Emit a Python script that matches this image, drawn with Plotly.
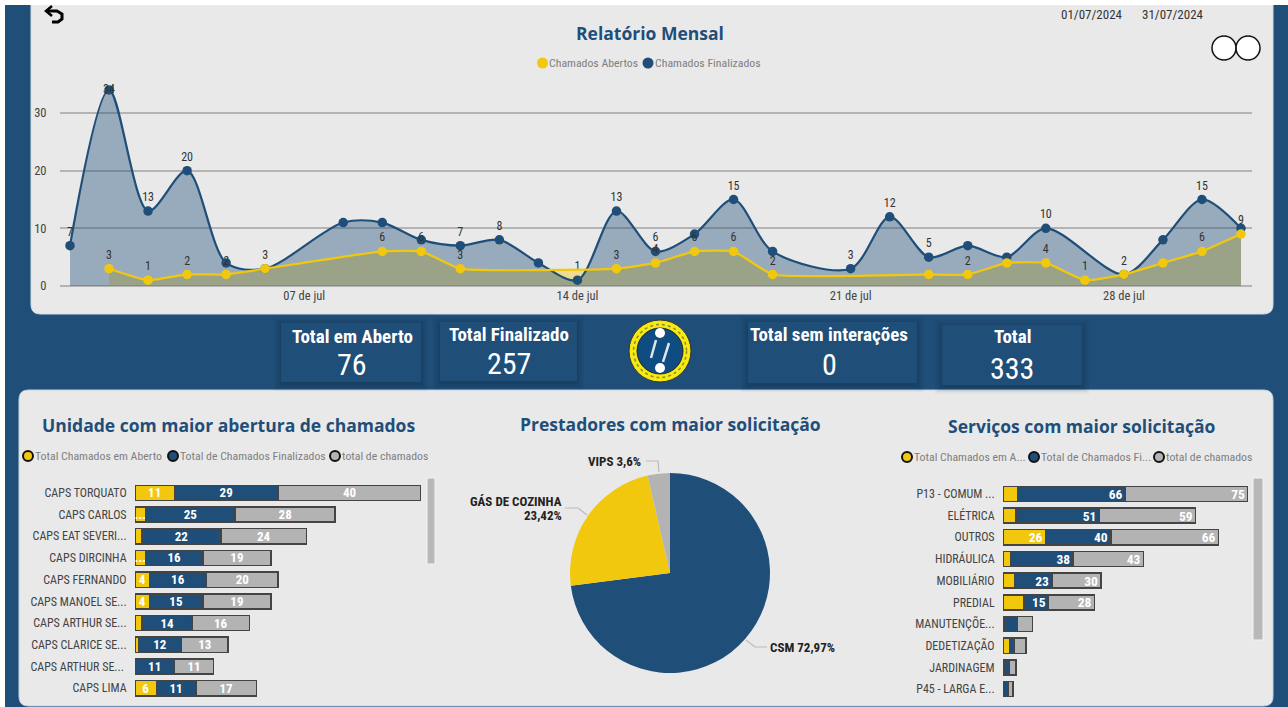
import plotly.graph_objects as go

W, H = 1288, 707
NAVY = "#1F4E79"
YEL = "#F2C80F"
GRY = "#B3B3B3"
PANEL = "#E9E9E9"
NARROW = "Roboto Condensed, Roboto, sans-serif"
HEAD = "Open Sans, Noto Sans, sans-serif"

# ---------- data ----------
open_days = [2, 3, 4, 5, 6, 9, 10, 11, 15, 16, 17, 18, 19, 23, 24, 25, 26, 27, 28, 29, 30, 31]
open_vals = [3, 1, 2, 2, 3, 6, 6, 3, 3, 4, 6, 6, 2, 2, 2, 4, 4, 1, 2, 4, 6, 9]
open_lbls = ["3", "1", "2", "2", "", "6", "6", "3", "3", "4", "6", "6", "2", "", "2", "", "4", "1", "", "", "6", "9"]
done_days = [1, 2, 3, 4, 5, 6, 8, 9, 10, 11, 12, 13, 14, 15, 16, 17, 18, 19, 21, 22, 23, 24, 25, 26, 28, 29, 30, 31]
done_vals = [7, 34, 13, 20, 4, 3, 11, 11, 8, 7, 8, 4, 1, 13, 6, 9, 15, 6, 3, 12, 5, 7, 5, 10, 2, 8, 15, 10]
done_lbls = ["7", "34", "13", "20", "", "3", "", "", "", "7", "8", "", "1", "13", "6", "", "15", "", "3", "12", "5", "", "", "10", "2", "", "15", ""]
date_ticks = ["2024-07-07", "2024-07-14", "2024-07-21", "2024-07-28"]
date_ticktext = ["07 de jul", "14 de jul", "21 de jul", "28 de jul"]

units = ["CAPS TORQUATO", "CAPS CARLOS", "CAPS EAT SEVERI...", "CAPS DIRCINHA", "CAPS FERNANDO",
         "CAPS MANOEL SE...", "CAPS ARTHUR SE...", "CAPS CLARICE SE...", "CAPS ARTHUR SE... ", "CAPS LIMA"]
units_open = [11, 3, 2, 3, 4, 4, 2, 1, 0, 6]
units_done = [29, 25, 22, 16, 16, 15, 14, 12, 11, 11]
units_total = [40, 28, 24, 19, 20, 19, 16, 13, 11, 17]
units_open_lbl = ["11", "...", "", "...", "4", "4", "", "", "", "6"]

services = ["P13 - COMUM ...", "ELÉTRICA", "OUTROS", "HIDRÁULICA", "MOBILIÁRIO", "PREDIAL",
            "MANUTENÇÕE...", "DEDETIZAÇÃO", "JARDINAGEM", "P45 - LARGA E..."]
serv_open = [9, 8, 26, 5, 7, 13, 1, 4, 1, 0]
serv_done = [66, 51, 40, 38, 23, 15, 8, 3, 3, 3]
serv_total = [75, 59, 66, 43, 30, 28, 9, 7, 4, 3]
serv_open_lbl = ["", "", "26", "", "", "", "", "", "", ""]
serv_done_lbl = ["66", "51", "40", "38", "23", "15", "", "", "", ""]
serv_total_lbl = ["75", "59", "66", "43", "30", "28", "", "", "", ""]

prov_names = ["CSM", "GÁS DE COZINHA", "VIPS"]
prov_vals = [72.97, 23.42, 3.6]

kpi_titles = ["Total em Aberto", "Total Finalizado", "Total sem interações", "Total"]
kpi_values = ["76", "257", "0", "333"]


# ---------- helpers ----------
def px(x):
    return x / W


def py(y):
    return 1 - y / H


def dom_x(a, b):
    return [px(a), px(b)]


def dom_y(top, bottom):
    return [py(bottom), py(top)]


shapes, annos = [], []


def rect(x0, y0, x1, y1, fill, line=None, lw=0, layer="below"):
    shapes.append(dict(type="rect", xref="paper", yref="paper", x0=px(x0), x1=px(x1), y0=py(y0), y1=py(y1),
                       fillcolor=fill, line=dict(color=line or fill, width=lw), layer=layer))


def circ(cx, cy, rx, ry, fill, line="rgba(0,0,0,0)", lw=0, layer="above", dash=None):
    ln = dict(color=line, width=lw)
    if dash:
        ln["dash"] = dash
    shapes.append(dict(type="circle", xref="paper", yref="paper", x0=px(cx - rx), x1=px(cx + rx),
                       y0=py(cy + ry), y1=py(cy - ry), fillcolor=fill, line=ln, layer=layer))


def path_px(points, color, lw=1, fill=None, layer="above"):
    d = "M " + " L ".join(f"{px(a):.5f} {py(b):.5f}" for a, b in points)
    shapes.append(dict(type="path", xref="paper", yref="paper", path=d, line=dict(color=color, width=lw),
                       fillcolor=fill or "rgba(0,0,0,0)", layer=layer))


def rrect(x0, y0, x1, y1, r, fill, line=None):
    k = 0.3 * r
    pts = (f"M {px(x0+r)} {py(y0)} L {px(x1-r)} {py(y0)} C {px(x1-k)} {py(y0)} {px(x1)} {py(y0+k)} {px(x1)} {py(y0+r)} "
           f"L {px(x1)} {py(y1-r)} C {px(x1)} {py(y1-k)} {px(x1-k)} {py(y1)} {px(x1-r)} {py(y1)} "
           f"L {px(x0+r)} {py(y1)} C {px(x0+k)} {py(y1)} {px(x0)} {py(y1-k)} {px(x0)} {py(y1-r)} "
           f"L {px(x0)} {py(y0+r)} C {px(x0)} {py(y0+k)} {px(x0+k)} {py(y0)} {px(x0+r)} {py(y0)} Z")
    shapes.append(dict(type="path", xref="paper", yref="paper", path=pts, fillcolor=fill,
                       line=dict(color=line or fill, width=1), layer="below"))


def text(x, y, s, size, color, font=NARROW, anchor="center", bold=False):
    annos.append(dict(xref="paper", yref="paper", x=px(x), y=py(y), text=f"<b>{s}</b>" if bold else s,
                      showarrow=False, xanchor=anchor, yanchor="middle", align=anchor,
                      font=dict(size=size, color=color, family=font), borderpad=0, borderwidth=0))


# ---------- background ----------
rect(0, 0, W, H, NAVY)
rrect(31, -12, 1273, 314, 10, PANEL, "#D5DEE6")
rrect(19, 390, 1273, 706, 10, PANEL, "#C4D2DE")
rect(0, 0, W, 5, "#FFFFFF")
rect(0, 0, 5, H, "#FFFFFF")

# KPI cards
cards = [(281, 323, 421, 382, 352, 336, 365), (440, 322, 577, 381, 509, 334, 363),
         (748, 322, 917, 383, 829, 334, 365), (942, 325, 1082, 385, 1012, 336, 368)]
for (x0, y0, x1, y1, cx, ty, vy), t, v in zip(cards, kpi_titles, kpi_values):
    for g, a in ((7, 0.03), (5, 0.04), (3, 0.05), (1, 0.06)):
        rect(x0 - g, y0 - g + 2, x1 + g, y1 + g + 2, f"rgba(0,0,0,{a})")
    rect(x0, y0, x1, y1, NAVY)
    text(cx, ty, t, 19, "#FFFFFF", bold=True)
    text(cx, vy, v, 30, "#FFFFFF")

# Logo
circ(660, 351, 31, 31, "#F6EA12", "#333333", 1)
circ(660, 351, 26.5, 26.5, "rgba(0,0,0,0)", "#8A8A30", 1.5, dash="dot")
circ(660, 351, 23, 23, "#0F4C81", "#222222", 1)
circ(660, 333, 5, 5, "#FFFFFF")
circ(660, 368, 5, 5, "#FFFFFF")
path_px([(656, 340), (651, 358)], "#DDE6EE", 2.5)
path_px([(669, 343), (663, 362)], "#DDE6EE", 2.5)

# Back arrow
path_px([(52, 6), (46, 11), (52, 16)], "#000000", 2.5)
path_px([(46, 11), (57, 11), (62, 14), (62, 19), (58, 22), (52, 22)], "#000000", 3)

# Toggle circles
circ(1224, 48, 12, 12, "#FFFFFF", "#111111", 1.5)
circ(1248, 48, 12, 12, "#FFFFFF", "#111111", 1.5)

# Scrollbars
rect(427, 478, 435, 564, "#B8B8B8", "#F4F4F4", 1)
rect(1253, 478, 1263, 640, "#B8B8B8", "#F4F4F4", 1)

# Titles and dates
text(650, 33, "Relatório Mensal", 17.5, NAVY, HEAD, bold=True)
text(228, 425, "Unidade com maior abertura de chamados", 17.5, NAVY, HEAD, bold=True)
text(670, 424, "Prestadores com maior solicitação", 17.5, NAVY, HEAD, bold=True)
text(1082, 426, "Serviços com maior solicitação", 17.5, NAVY, HEAD, bold=True)
text(1092, 15, "01/07/2024", 13, "#333333")
text(1173, 15, "31/07/2024", 13, "#333333")


# Legends
def legend(items, cy, outlined):
    for (cx, tx, color, label) in items:
        if outlined:
            circ(cx, cy, 5, 5, color, "#111111", 2)
        else:
            circ(cx, cy, 5.5, 5.5, color)
        text(tx, cy, label, 11.8, "#7F7F7F", anchor="left")


legend([(542.5, 549, YEL, "Chamados Abertos"), (648, 655, NAVY, "Chamados Finalizados")], 63, False)
legend([(28, 35, YEL, "Total Chamados em Aberto"), (173, 180, NAVY, "Total de Chamados Finalizados"),
        (335, 342, GRY, "total de chamados")], 456, True)
legend([(907, 914, YEL, "Total Chamados em A..."), (1034, 1041, NAVY, "Total de Chamados Fi..."),
        (1159, 1166, GRY, "total de chamados")], 457, True)

# Pie labels
text(641, 461, f"{prov_names[2]} {str(prov_vals[2]).replace('.', ',')}%", 13, "#222222", anchor="right", bold=True)
path_px([(646, 461), (658, 461), (659, 472)], "#BBBBBB", 1.2)
text(562, 501, prov_names[1], 13, "#222222", anchor="right", bold=True)
text(562, 515, f"{str(prov_vals[1]).replace('.', ',')}%", 13, "#222222", anchor="right", bold=True)
path_px([(565, 508), (578, 508), (587, 515)], "#BBBBBB", 1.2)
text(770, 647, f"{prov_names[0]} {str(prov_vals[0]).replace('.', ',')}%", 13, "#222222", anchor="left", bold=True)
path_px([(746, 640), (755, 647), (767, 647)], "#BBBBBB", 1.2)

# ---------- traces ----------
fig = go.Figure()
oDates = [f"2024-07-{d:02d}" for d in open_days]
dDates = [f"2024-07-{d:02d}" for d in done_days]
lab = dict(size=12, color="#333333", family=NARROW)
done_pos = ["middle center" if v == max(done_vals) else "top center" for v in done_vals]

fig.add_trace(go.Scatter(x=oDates, y=open_vals, mode="lines", fill="tozeroy", fillcolor="rgba(242,200,15,0.4)",
                         line=dict(shape="spline", smoothing=0.4, width=0, color="rgba(0,0,0,0)"),
                         hoverinfo="skip", showlegend=False))
fig.add_trace(go.Scatter(x=dDates, y=done_vals, mode="lines+markers+text", name="Chamados Finalizados",
                         fill="tozeroy", fillcolor="rgba(31,78,121,0.4)",
                         line=dict(color=NAVY, width=2.2, shape="spline", smoothing=0.85),
                         marker=dict(size=9.5, color=NAVY), text=done_lbls, textposition=done_pos,
                         textfont=lab, showlegend=False, cliponaxis=False))
fig.add_trace(go.Scatter(x=oDates, y=open_vals, mode="lines+markers+text", name="Chamados Abertos",
                         line=dict(color=YEL, width=2.2, shape="spline", smoothing=0.4),
                         marker=dict(size=9.5, color=YEL), text=open_lbls, textposition="top center",
                         textfont=lab, showlegend=False, cliponaxis=False))


def bars(names, a, b, c, a_lbl, b_lbl, c_lbl, xa, ya, anchor, size, bold):
    fam = dict(size=size, color="#FFFFFF", family=NARROW)
    for vals, color, lbl, nm in ((a, YEL, a_lbl, "Total Chamados em Aberto"),
                                 (b, NAVY, b_lbl, "Total de Chamados Finalizados"),
                                 (c, GRY, c_lbl, "total de chamados")):
        txt = [f"<b>{t}</b>" if (bold and t) else t for t in lbl]
        fig.add_trace(go.Bar(y=names, x=vals, orientation="h", name=nm, xaxis=xa, yaxis=ya,
                             marker=dict(color=color, line=dict(color="#444444", width=1.5)),
                             text=txt, textposition="inside", insidetextanchor=anchor, constraintext="none",
                             textangle=0, insidetextfont=fam, showlegend=False, cliponaxis=False))


bars(units, units_open, units_done, units_total, units_open_lbl,
     [str(v) for v in units_done], [str(v) for v in units_total], "x2", "y2", "middle", 13, True)
bars(services, serv_open, serv_done, serv_total, serv_open_lbl, serv_done_lbl, serv_total_lbl,
     "x3", "y3", "end", 13.5, True)

fig.add_trace(go.Pie(labels=prov_names, values=prov_vals, sort=False, direction="clockwise", rotation=0,
                     marker=dict(colors=[NAVY, YEL, GRY], line=dict(width=0)), textinfo="none",
                     domain=dict(x=dom_x(570, 770), y=dom_y(473, 673)), showlegend=False, automargin=False))

cat_axis = dict(type="category", autorange="reversed", showgrid=False, showline=False, zeroline=False,
                ticks="outside", ticklen=5, tickcolor="rgba(0,0,0,0)", automargin=False,
                tickfont=dict(size=12, color="#444444", family=NARROW))
val_axis = dict(showgrid=False, showline=False, zeroline=False, showticklabels=False, ticks="", automargin=False)

fig.update_layout(
    width=W, height=H, autosize=False, margin=dict(l=0, r=0, t=0, b=0), paper_bgcolor="#FFFFFF",
    plot_bgcolor="rgba(0,0,0,0)", barmode="stack", bargap=0.3, shapes=shapes, annotations=annos,
    showlegend=False, font=dict(family=NARROW),
    xaxis=dict(domain=dom_x(60, 1252), type="date", range=["2024-06-30 17:51", "2024-07-31 06:46"],
               tickvals=date_ticks, ticktext=date_ticktext, showgrid=False, zeroline=False, ticks="",
               showline=False, automargin=False, tickfont=dict(size=12.5, color="#444444", family=NARROW)),
    yaxis=dict(domain=dom_y(80, 286), range=[0, 35.72], tickvals=[0, 10, 20, 30], gridcolor="#B4B4B4",
               gridwidth=1.5, zeroline=True, zerolinecolor="#B4B4B4", zerolinewidth=1.5, ticks="outside",
               ticklen=10, tickcolor="rgba(0,0,0,0)", automargin=False,
               tickfont=dict(size=12.5, color="#444444", family=NARROW)),
    xaxis2=dict(domain=dom_x(135, 421), range=[0, 80], anchor="y2", **val_axis),
    yaxis2=dict(domain=dom_y(482, 699), anchor="x2", **cat_axis),
    xaxis3=dict(domain=dom_x(1003, 1248), range=[0, 150], anchor="y3", **val_axis),
    yaxis3=dict(domain=dom_y(483, 700), anchor="x3", **cat_axis),
)

fig.write_html("out.html", config=dict(displayModeBar=False),
               post_script="document.body.style.margin='0';document.body.style.overflow='hidden';")
